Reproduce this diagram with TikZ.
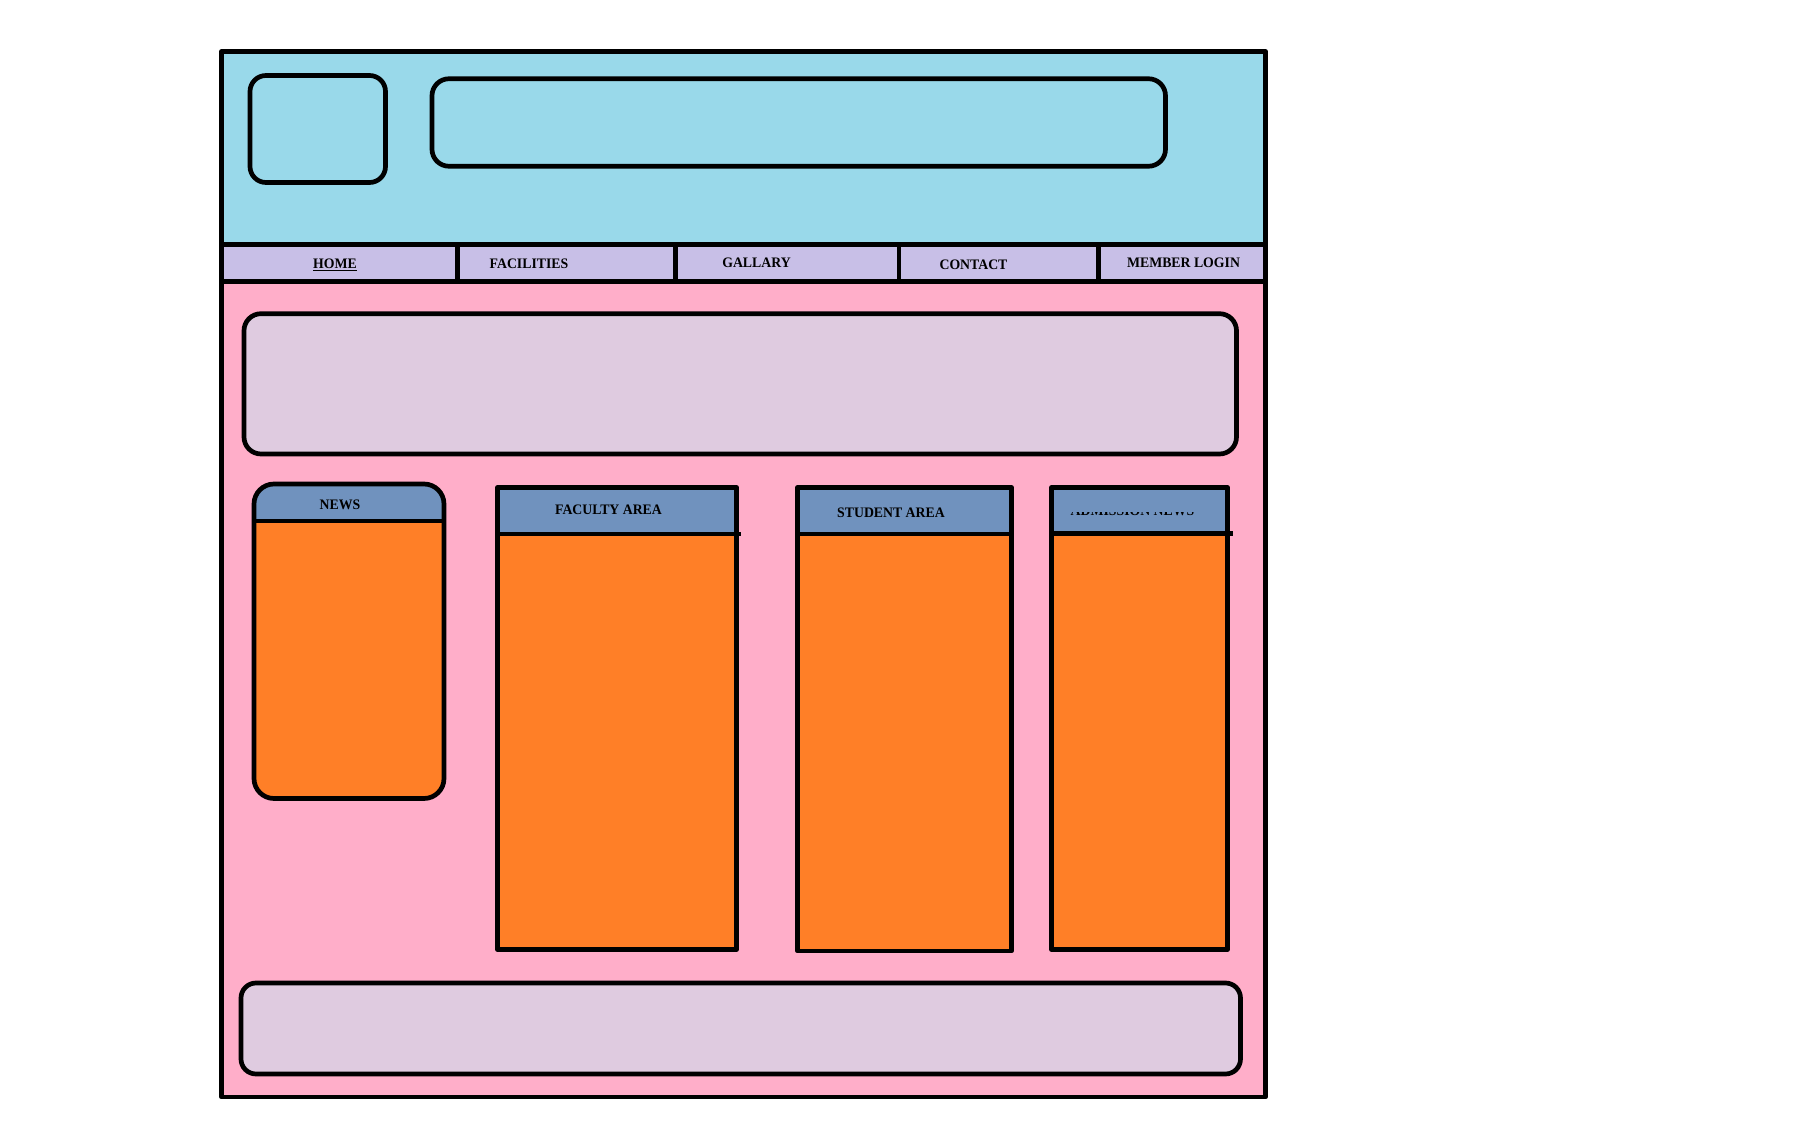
\documentclass[tikz,border=0pt]{standalone}
\usepackage{fontspec}
\setmainfont{Liberation Serif}
\definecolor{hdrblue}{HTML}{99D9EA}
\definecolor{navlilac}{HTML}{C8BFE7}
\definecolor{pagepink}{HTML}{FFAEC9}
\definecolor{panel}{HTML}{DFCBE0}
\definecolor{colhead}{HTML}{7092BE}
\definecolor{colbody}{HTML}{FF7F27}
\begin{document}
\begin{tikzpicture}[x=1pt,y=-1pt,line join=round,
  box/.style={draw=black,line width=4.7pt,inner sep=0pt,outer sep=0pt},
  rbox/.style={box,rounded corners=#1},
  sep/.style={draw=black,line width=4.7pt},
  lbl/.style={font=\bfseries\fontsize{14.5}{15}\selectfont,text=black,inner sep=0pt,anchor=base,xscale=0.95}]
\useasboundingbox (0,0) rectangle (1800,1134);
% background fills
\fill[white] (0,0) rectangle (1800,1134);
\fill[hdrblue] (221.5,51.5) rectangle (1265.5,244.5);
\fill[navlilac] (221.5,244.5) rectangle (1265.5,281.5);
\fill[pagepink] (221.5,281.5) rectangle (1265.5,1097);
% outer frame
\node[box,minimum width=1044pt,minimum height=1045.5pt] (frame) at (743.5,574.25) {};
\draw[sep] (221.5,244.5) -- (1265.5,244.5);
\draw[sep] (221.5,281.5) -- (1265.5,281.5);
\draw[sep] (457.5,244.5) -- (457.5,281.5);
\draw[sep] (675.5,244.5) -- (675.5,281.5);
\draw[sep] (899,244.5) -- (899,281.5);
\draw[sep] (1098.5,244.5) -- (1098.5,281.5);
% header boxes
\node[rbox=16pt,minimum width=135.5pt,minimum height=107pt] (logo) at (317.75,129) {};
\node[rbox=17pt,minimum width=733.5pt,minimum height=87.5pt] (title) at (798.75,122.5) {};
% nav labels
\node[lbl] (home) at (335,269) {\underline{HOME}};
\node[lbl] (facil) at (529,269) {FACILITIES};
\node[lbl] (gall) at (756.5,267.5) {GALLARY};
\node[lbl] (cont) at (973.5,270) {CONTACT};
\node[lbl] (member) at (1183.5,267.5) {MEMBER LOGIN};
% banner and footer
\node[rbox=17pt,fill=panel,minimum width=992.5pt,minimum height=140.3pt] (banner) at (740.25,383.85) {};
\node[rbox=15pt,fill=panel,minimum width=999.5pt,minimum height=91pt] (footer) at (740.75,1028.5) {};
% news column
\fill[colbody,rounded corners=20pt] (254,484) rectangle (444,798.5);
\begin{scope}
  \clip[rounded corners=20pt] (254,484) rectangle (444,798.5);
  \fill[colhead] (254,484) rectangle (444,521);
\end{scope}
\node[rbox=20pt,minimum width=190pt,minimum height=314.5pt] (news) at (349,641.25) {};
\draw[sep] (254,521) -- (444,521);
\node[lbl] (newsT) at (340,509) {NEWS};
% faculty column
\fill[colbody] (497.5,487.5) rectangle (736.5,949.5);
\fill[colhead] (497.5,487.5) rectangle (736.5,534);
\node[box,minimum width=239pt,minimum height=462pt] (faculty) at (617,718.5) {};
\draw[sep] (497.5,534) -- (741,534);
\node[lbl] (facT) at (608.5,514.5) {FACULTY AREA};
% student column
\fill[colbody] (797.5,487.5) rectangle (1011.5,951);
\fill[colhead] (797.5,487.5) rectangle (1011.5,534);
\node[box,minimum width=214pt,minimum height=463.5pt] (student) at (904.5,719.25) {};
\draw[sep] (797.5,534) -- (1011.5,534);
\node[lbl] (stuT) at (891,517) {STUDENT AREA};
% admission column
\fill[colbody] (1051.5,487.5) rectangle (1227.5,949.5);
\fill[colhead] (1051.5,487.5) rectangle (1227.5,533.5);
\begin{scope}
  \clip (1056,512.3) rectangle (1223,530);
  \node[lbl] (admT) at (1132.5,515.3) {ADMISSION NEWS};
\end{scope}
\node[box,minimum width=176pt,minimum height=462pt] (admission) at (1139.5,718.5) {};
\draw[sep] (1051.5,533.5) -- (1233,533.5);
\end{tikzpicture}
\end{document}
